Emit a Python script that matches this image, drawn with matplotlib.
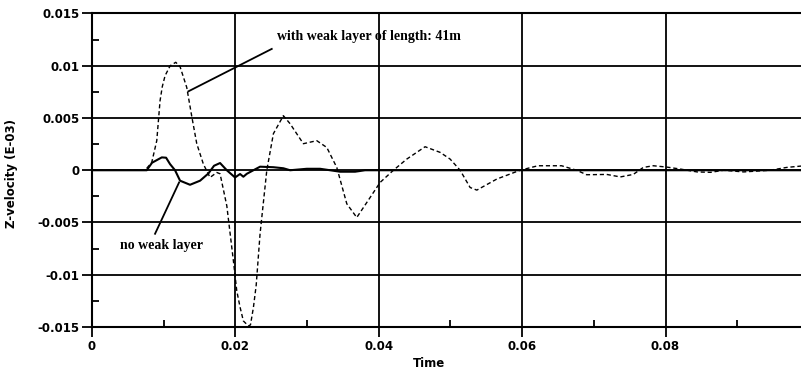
import matplotlib
matplotlib.use("Agg")
import matplotlib.pyplot as plt
import numpy as np

#------------------------------------Data------------------------------------

# with weak layer of length 41m (dashed)
t_weak = [0.0, 0.0074, 0.00833, 0.00903, 0.00949, 0.0098, 0.01019, 0.0109, 0.01168, 0.01228,
          0.01321, 0.0139, 0.01461, 0.01553, 0.01646, 0.0174, 0.01786, 0.0188, 0.01972, 0.02019,
          0.02065, 0.02111, 0.02181, 0.0221, 0.02251, 0.0229, 0.02344, 0.02438, 0.0253, 0.02669,
          0.02763, 0.02948, 0.03135, 0.03275, 0.03414, 0.03554, 0.03693, 0.03879, 0.04018, 0.04204,
          0.04391, 0.04646, 0.04856, 0.04995, 0.05135, 0.05274, 0.05368, 0.05647, 0.05972, 0.0622,
          0.0655, 0.0676, 0.0690, 0.0718, 0.0737, 0.0755, 0.0769, 0.0783, 0.0802, 0.0821,
          0.0844, 0.0863, 0.0881, 0.0909, 0.0946, 0.0969, 0.0989]
v_weak = [0.0, 0.0, 0.00075, 0.00283, 0.00666, 0.0080, 0.00905, 0.0100, 0.01033, 0.00991,
          0.00793, 0.0052, 0.00254, 0.00059, -0.00069, -0.00021, -0.00034, -0.0034, -0.00867, -0.01154,
          -0.0131, -0.01442, -0.0149, -0.0148, -0.01314, -0.0110, -0.00608, 0.0, 0.0035, 0.00522,
          0.00445, 0.00254, 0.00283, 0.00218, 0.00027, -0.00321, -0.00452, -0.00261, -0.00117, 0.0,
          0.00107, 0.00225, 0.00171, 0.00107, 0.0, -0.00165, -0.0019, -0.00084, 0.0, 0.00043,
          0.00043, 0.0, -0.00043, -0.0004, -0.00064, -0.0004, 0.00027, 0.00043, 0.0003, 0.00011,
          -0.00016, -0.0002, 0.0, -0.00016, 0.0, 0.00027, 0.0004]

# no weak layer (solid)
t_none = [0.0, 0.00763, 0.00837, 0.00973, 0.01033, 0.01088, 0.01158, 0.01228, 0.01367, 0.01507,
          0.01623, 0.01702, 0.01786, 0.0188, 0.01995, 0.02065, 0.02111, 0.02159, 0.02251, 0.02344,
          0.0253, 0.02669, 0.02763, 0.02996, 0.03181, 0.03321, 0.0346, 0.03669, 0.03809, 0.0989]
v_none = [0.0, 0.0, 0.00072, 0.00123, 0.0012, 0.00059, 0.0, -0.001, -0.00139, -0.001,
          -0.00031, 0.00043, 0.00069, 0.0, -0.00069, -0.00036, -0.00062, -0.00034, 0.0, 0.00034,
          0.00029, 0.00019, 0.0, 0.00014, 0.00014, 0.0, -0.00014, -0.00014, 0.0, 0.0]

xticks = [0, 0.02, 0.04, 0.06, 0.08]
xticklabels = ["0", "0.02", "0.04", "0.06", "0.08"]
yticks = [0.015, 0.01, 0.005, 0, -0.005, -0.01, -0.015]
yticklabels = ["0.015", "0.01", "0.005", "0", "-0.005", "-0.01", "-0.015"]

#------------------------------------Plot------------------------------------

fig = plt.figure(figsize=(8.01, 3.79), dpi=100)
ax = fig.add_axes([0.1149, 0.1372, 0.8851, 0.8272])

ax.plot(t_weak, v_weak, color="black", lw=1.0, ls=(0, (3, 2)))
ax.plot(t_none, v_none, color="black", lw=1.5)

ax.set_xlim(0, 0.0989)
ax.set_ylim(-0.015, 0.015)
ax.set_xticks(xticks)
ax.set_xticklabels(xticklabels)
ax.set_yticks(yticks)
ax.set_yticklabels(yticklabels)
ax.set_xticks(np.arange(0.01, 0.099, 0.02), minor=True)
ax.set_yticks(np.arange(-0.0125, 0.015, 0.005), minor=True)
ax.tick_params(which="major", direction="out", length=7, width=1.3, pad=2)
ax.tick_params(which="minor", direction="in", length=5, width=1.3)
for lab in ax.get_xticklabels() + ax.get_yticklabels():
    lab.set_fontweight("bold")
    lab.set_fontsize(8.5)

ax.grid(True, which="major", color="black", lw=1.3)
ax.spines["right"].set_visible(False)
for s in ["left", "bottom", "top"]:
    ax.spines[s].set_linewidth(1.5)

ax.set_xlabel("Time", fontsize=8.5, fontweight="bold")
ax.xaxis.set_label_coords((429 - 92) / 709, -0.095)
ax.set_ylabel("Z-velocity (E-03)", fontsize=8.5, fontweight="bold")
ax.yaxis.set_label_coords(-0.105, 0.49)

# annotations
ax.plot([0.02507, 0.01344], [0.01161, 0.00755], color="black", lw=1.3)
ax.text(0.0258, 0.0128, "with weak layer of length: 41m", fontsize=10, fontweight="bold",
        family="Liberation Serif", va="center", ha="left")
ax.plot([0.00879, 0.01214], [-0.00608, -0.00117], color="black", lw=1.3)
ax.text(0.0039, -0.0072, "no weak layer", fontsize=10, fontweight="bold",
        family="Liberation Serif", va="center", ha="left")

plt.savefig("out.png", dpi=100)
